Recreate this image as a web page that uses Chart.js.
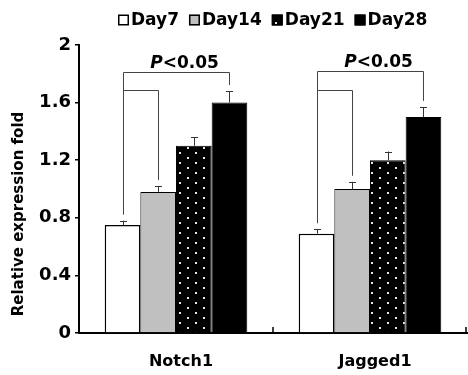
<!DOCTYPE html>
<html><head><meta charset="utf-8">
<script src="https://cdn.jsdelivr.net/npm/chart.js@4.4.1/dist/chart.umd.min.js"></script>
<style>html,body{margin:0;padding:0;background:#fff;} #wrap{width:468px;height:375px;position:relative;}</style>
</head><body><div id="wrap"><canvas id="c" width="468" height="375"></canvas></div>
<script>
const categories = ['Notch1', 'Jagged1'];
const seriesLabels = ['Day7', 'Day14', 'Day21', 'Day28'];
const day7 = [0.75, 0.69];
const day14 = [0.98, 1.00];
const day21 = [1.30, 1.20];
const day28 = [1.60, 1.50];
const err7 = [0.03, 0.03];
const err14 = [0.04, 0.05];
const err21 = [0.06, 0.06];
const err28 = [0.08, 0.07];
const yTicks = [0, 0.4, 0.8, 1.2, 1.6, 2];
const yTickLabels = ['0', '0.4', '0.8', '1.2', '1.6', '2'];
const pItalic = 'P';
const pRest = '<0.05';
const bracketOuter = [1.81, 1.82];
const bracketInner = [1.69, 1.69];
const yTitle = 'Relative expression fold';

const FONT = '"DejaVu Sans", sans-serif';
const values = [day7, day14, day21, day28];
const errors = [err7, err14, err21, err28];

function makePattern() {
  const p = document.createElement('canvas');
  p.width = 16; p.height = 10;
  const g = p.getContext('2d');
  g.fillStyle = '#000'; g.fillRect(0, 0, 16, 10);
  g.fillStyle = '#e8e8e8';
  g.fillRect(3, 2, 2, 2);
  g.fillRect(11, 7, 2, 2);
  return document.getElementById('c').getContext('2d').createPattern(p, 'repeat');
}
const dotPattern = makePattern();
const fills = ['#ffffff', '#c0c0c0', dotPattern, '#000000'];
const borderWidths = [1.5, 1, 1, 1];

const overlay = {
  id: 'overlay',
  afterDatasetsDraw(chart) {
    const ctx = chart.ctx;
    const ys = chart.scales.y, xs = chart.scales.x;
    const ca = chart.chartArea;
    ctx.save();
    ctx.strokeStyle = '#333'; ctx.lineWidth = 1;
    const errTop = [];
    values.forEach((vals, i) => {
      const meta = chart.getDatasetMeta(i);
      errTop[i] = [];
      meta.data.forEach((el, j) => {
        const yt = ys.getPixelForValue(vals[j] + errors[i][j]);
        errTop[i][j] = yt;
        ctx.beginPath();
        ctx.moveTo(Math.round(el.x) + 0.5, el.y);
        ctx.lineTo(Math.round(el.x) + 0.5, yt);
        ctx.moveTo(Math.round(el.x) - 3, Math.round(yt) + 0.5);
        ctx.lineTo(Math.round(el.x) + 4, Math.round(yt) + 0.5);
        ctx.stroke();
      });
    });
    ctx.strokeStyle = '#444'; ctx.lineWidth = 1;
    categories.forEach((c, j) => {
      const x0 = Math.round(chart.getDatasetMeta(0).data[j].x) + 0.5;
      const x1 = Math.round(chart.getDatasetMeta(1).data[j].x) + 0.5;
      const x3 = Math.round(chart.getDatasetMeta(3).data[j].x) + 0.5;
      const yO = Math.round(ys.getPixelForValue(bracketOuter[j])) + 0.5;
      const yI = Math.round(ys.getPixelForValue(bracketInner[j])) + 0.5;
      ctx.beginPath();
      ctx.moveTo(x0, errTop[0][j] - 6);
      ctx.lineTo(x0, yO);
      ctx.lineTo(x3, yO);
      ctx.lineTo(x3, errTop[3][j] - 6);
      ctx.moveTo(x0, yI);
      ctx.lineTo(x1, yI);
      ctx.lineTo(x1, errTop[1][j] - 6);
      ctx.stroke();
      ctx.fillStyle = '#000';
      ctx.textBaseline = 'alphabetic';
      const fI = 'italic bold 17px ' + FONT, fR = 'bold 17px ' + FONT;
      ctx.font = fI; const wI = ctx.measureText(pItalic).width;
      ctx.font = fR; const wR = ctx.measureText(pRest).width;
      const cx = (x0 + x3) / 2 + 8;
      const sx = cx - (wI + wR) / 2;
      ctx.font = fI; ctx.fillText(pItalic, sx, yO - 5);
      ctx.font = fR; ctx.fillText(pRest, sx + wI, yO - 5);
    });
    ctx.strokeStyle = '#000'; ctx.lineWidth = 1.5;
    const n = categories.length;
    for (let j = 0; j < n; j++) {
      const xb = j < n - 1 ? (xs.getPixelForTick(j) + xs.getPixelForTick(j + 1)) / 2 : ca.right - 1;
      ctx.beginPath();
      ctx.moveTo(xb, ca.bottom);
      ctx.lineTo(xb, ca.bottom - 6);
      ctx.stroke();
    }
    ctx.restore();
  },
  afterDraw(chart) {
    const ctx = chart.ctx;
    const ca = chart.chartArea;
    ctx.save();
    ctx.font = 'bold 17px ' + FONT;
    ctx.textBaseline = 'middle';
    const box = 11, gapT = 2, gapI = 10;
    const widths = seriesLabels.map(s => ctx.measureText(s).width);
    let total = widths.reduce((a, b) => a + b, 0) + seriesLabels.length * (box + gapT) + (seriesLabels.length - 1) * gapI;
    let x = Math.round((ca.left + ca.right) / 2 - total / 2);
    const ly = 20;
    seriesLabels.forEach((s, i) => {
      ctx.fillStyle = fills[i];
      ctx.fillRect(x, ly - box / 2, box, box);
      ctx.strokeStyle = '#000'; ctx.lineWidth = 1.5;
      ctx.strokeRect(x + 0.75, ly - box / 2 + 0.75, box - 1.5, box - 1.5);
      ctx.fillStyle = '#000';
      ctx.fillText(s, x + box + gapT, ly + 1);
      x += box + gapT + widths[i] + gapI;
    });
    ctx.translate(19, 214);
    ctx.rotate(-Math.PI / 2);
    ctx.font = 'bold 15px ' + FONT;
    ctx.textAlign = 'center';
    ctx.textBaseline = 'middle';
    ctx.fillText(yTitle, 0, 0);
    ctx.restore();
  }
};

new Chart(document.getElementById('c'), {
  type: 'bar',
  data: {
    labels: categories,
    datasets: seriesLabels.map((s, i) => ({
      label: s,
      data: values[i],
      backgroundColor: fills[i],
      borderColor: '#000',
      borderWidth: borderWidths[i],
      categoryPercentage: 0.735,
      barPercentage: 1.0
    }))
  },
  options: {
    responsive: false,
    animation: false,
    events: [],
    layout: { padding: { top: 45, right: 1, left: 0, bottom: 0 } },
    plugins: { legend: { display: false }, tooltip: { enabled: false } },
    scales: {
      x: {
        offset: true,
        grid: { display: false },
        border: { display: true, color: '#000', width: 2 },
        ticks: { color: '#000', font: { family: FONT, weight: 'bold', size: 16 }, padding: 11, labelOffset: 5 },
        afterFit: s => { s.height = 42; }
      },
      y: {
        min: 0, max: 2,
        afterBuildTicks: s => { s.ticks = yTicks.map(v => ({ value: v })); },
        ticks: { color: '#000', font: { family: FONT, weight: 'bold', size: 18 }, padding: 4,
          callback: (v, i) => yTickLabels[i] },
        grid: { drawOnChartArea: false, drawTicks: true, tickLength: 4, color: '#000', lineWidth: 1.5 },
        border: { display: true, color: '#000', width: 2 },
        afterFit: s => { s.width = 79; }
      }
    }
  },
  plugins: [overlay]
});
</script>
</body></html>
